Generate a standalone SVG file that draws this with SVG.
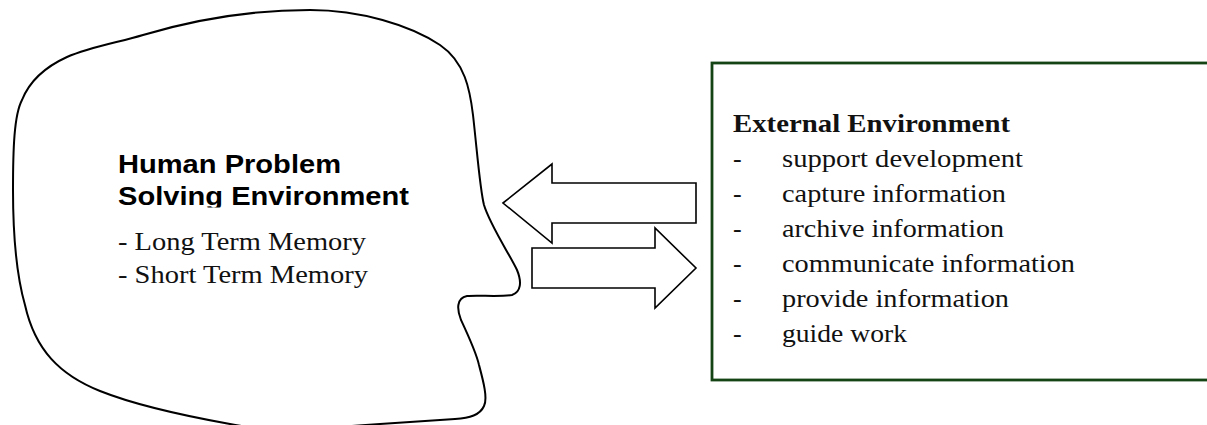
<svg xmlns="http://www.w3.org/2000/svg" width="1207" height="425" viewBox="0 0 1207 425">
  <style>
    .outline { fill: #ffffff; stroke: #000000; stroke-width: 2; stroke-linejoin: round; }
    .arrow { fill: #ffffff; stroke: #000000; stroke-width: 1.6; stroke-linejoin: miter; }
    .frame { fill: #ffffff; stroke: #144414; stroke-width: 2.8; }
    .title-sans { font-family: "Liberation Sans", Arial, sans-serif; font-weight: bold; font-size: 26.5px; fill: #000000; }
    .serif { font-family: "Liberation Serif", "Times New Roman", serif; font-size: 26px; fill: #111111; }
    .serif-bold { font-family: "Liberation Serif", "Times New Roman", serif; font-size: 26px; font-weight: bold; fill: #111111; }
  </style>
  <defs>
    <clipPath id="second-line-clip">
      <rect x="100" y="180" width="340" height="27.5"/>
    </clipPath>
  </defs>

  <rect x="0" y="0" width="1207" height="425" fill="#ffffff"/>

  <!-- Head-shaped outline: human problem solving environment -->
  <g id="human-environment">
    <path class="outline" d="M 310,10
      C 360,10 410,25 440,45
      C 465,62 470,90 473,115
      C 477,150 480,190 484,205
      C 490,225 510,255 517,270
      C 522,282 521,292 512,295
      C 500,297 478,295 467,296
      C 456,298 457,310 461,320
      C 468,335 476,352 479,365
      C 483,380 488,398 484,406
      C 480,415 470,418 455,419
      L 380,424
      C 330,428 260,431 230,424
      C 180,415 130,403 100,391
      C 60,375 35,350 25,305
      C 15,270 13,230 13,190
      C 13,150 14,115 22,100
      C 30,80 45,67 67,57
      C 90,47 120,42 143,35
      C 200,18 260,10 310,10 Z"/>
    <text class="title-sans" x="118" y="173" textLength="223" lengthAdjust="spacingAndGlyphs">Human Problem</text>
    <g clip-path="url(#second-line-clip)">
      <text class="title-sans" x="118" y="205" textLength="291" lengthAdjust="spacingAndGlyphs">Solving Environment</text>
    </g>
    <text class="serif" x="118" y="250" textLength="248" lengthAdjust="spacingAndGlyphs">- Long Term Memory</text>
    <text class="serif" x="118" y="283" textLength="250" lengthAdjust="spacingAndGlyphs">- Short Term Memory</text>
  </g>

  <!-- External environment box (runs off the right edge) -->
  <g id="external-environment">
    <rect class="frame" x="712" y="63" width="520" height="317"/>
    <text class="serif-bold" x="733" y="132" textLength="277" lengthAdjust="spacingAndGlyphs">External Environment</text>
    <g class="serif">
      <text x="733" y="167">-</text>
      <text x="782" y="167" textLength="241" lengthAdjust="spacingAndGlyphs">support development</text>
      <text x="733" y="202">-</text>
      <text x="782" y="202" textLength="224" lengthAdjust="spacingAndGlyphs">capture information</text>
      <text x="733" y="237">-</text>
      <text x="782" y="237" textLength="222" lengthAdjust="spacingAndGlyphs">archive information</text>
      <text x="733" y="272">-</text>
      <text x="782" y="272" textLength="293" lengthAdjust="spacingAndGlyphs">communicate information</text>
      <text x="733" y="307">-</text>
      <text x="782" y="307" textLength="227" lengthAdjust="spacingAndGlyphs">provide information</text>
      <text x="733" y="342">-</text>
      <text x="782" y="342" textLength="125" lengthAdjust="spacingAndGlyphs">guide work</text>
    </g>
  </g>

  <!-- Block arrows between the two environments -->
  <g id="connectors">
    <polygon id="arrow-to-human" class="arrow" points="503,203 552,164 552,183 696,183 696,223 552,223 552,243"/>
    <polygon id="arrow-to-external" class="arrow" points="532,248 655,248 655,228 696,268 655,308 655,288 532,288"/>
  </g>
</svg>
